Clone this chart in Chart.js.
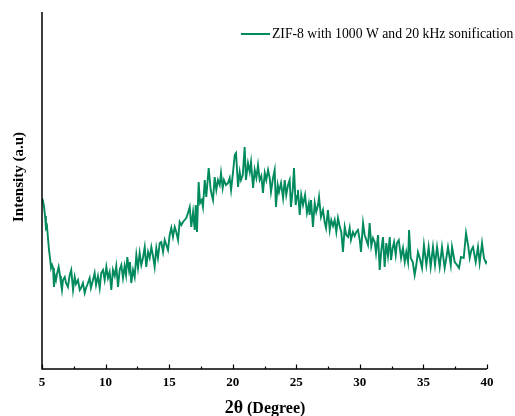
<!DOCTYPE html>
<html>
<head>
<meta charset="utf-8">
<script src="https://cdn.jsdelivr.net/npm/chart.js@4.4.1/dist/chart.umd.min.js"></script>
<style>
html,body{margin:0;padding:0;background:#fff;}
#wrap{width:515px;height:416px;position:relative;}
</style>
</head>
<body>
<div id="wrap"><canvas id="c" width="515" height="416"></canvas></div>
<script>
// 2θ positions (degree)
const twoTheta = [
5.00,5.08,5.16,5.24,5.31,5.39,5.47,5.55,5.63,5.71,
5.79,5.87,5.94,6.02,6.10,6.18,6.31,6.42,6.49,6.57,
6.65,6.79,6.89,7.04,7.18,7.30,7.44,7.57,7.67,7.83,
7.97,8.07,8.22,8.36,8.46,8.56,8.75,8.85,9.01,9.14,
9.25,9.40,9.54,9.66,9.80,9.93,10.06,10.19,10.32,10.45,
10.58,10.72,10.84,10.98,11.11,11.24,11.37,11.50,11.61,11.71,
11.84,11.92,12.02,12.16,12.29,12.42,12.55,12.68,12.81,12.94,
13.08,13.20,13.34,13.47,13.60,13.73,13.86,13.99,14.12,14.26,
14.38,14.52,14.65,14.78,14.91,15.04,15.17,15.30,15.44,15.56,
15.70,15.83,15.96,16.09,16.22,16.35,16.48,16.62,16.74,16.88,
17.01,17.09,17.19,17.32,17.43,17.56,17.66,17.80,17.92,18.11,
18.27,18.37,18.45,18.58,18.71,18.84,18.98,19.08,19.21,19.31,
19.47,19.63,19.76,19.87,20.00,20.16,20.26,20.34,20.42,20.55,
20.65,20.79,20.94,21.04,21.20,21.34,21.44,21.60,21.73,21.86,
21.99,22.12,22.25,22.38,22.52,22.64,22.78,22.91,23.01,23.17,
23.30,23.40,23.54,23.64,23.80,23.96,24.09,24.21,24.35,24.48,
24.58,24.72,24.82,24.95,25.06,25.13,25.27,25.39,25.53,25.69,
25.84,25.98,26.05,26.16,26.31,26.45,26.57,26.71,26.79,26.94,
27.10,27.23,27.34,27.49,27.63,27.75,27.89,28.02,28.15,28.28,
28.41,28.54,28.67,28.81,28.93,29.07,29.20,29.30,29.46,29.59,
29.72,29.85,29.99,30.09,30.25,30.38,30.51,30.64,30.77,30.90,
31.03,31.17,31.27,31.43,31.56,31.69,31.82,31.95,32.08,32.21,
32.35,32.45,32.58,32.69,32.82,32.92,33.06,33.16,33.24,33.39,
33.53,33.65,33.79,33.87,34.00,34.16,34.31,34.44,34.57,34.71,
34.89,35.04,35.23,35.41,35.57,35.75,35.91,36.07,36.28,36.46,
36.67,36.80,36.93,37.15,37.25,37.46,37.64,37.80,37.95,38.17,
38.35,38.51,38.64,38.77,38.90,39.11,39.29,39.42,39.61,39.76,
39.92,40.00
];
// Intensity (arbitrary units)
const intensity = [
171,168,162,153,141,143,131,119,111,101,
104,101,82,93,89,95,102,93,86,79,
89,92,86,82,94,99,79,92,85,89,
79,81,86,76,81,84,91,81,89,96,
84,93,81,96,99,89,102,91,97,79,
99,93,103,82,99,104,91,103,94,112,
99,107,86,99,92,114,101,116,104,111,
122,102,117,111,122,113,102,121,111,126,
127,117,129,124,119,134,141,132,142,137,
129,147,144,147,149,151,156,162,142,157,
139,164,137,187,166,169,162,189,172,201,
179,173,169,192,179,189,184,196,181,189,
184,186,191,179,194,214,216,199,182,197,
189,194,222,189,206,197,207,181,199,191,
204,189,193,176,196,189,199,191,177,191,
199,162,184,177,186,171,189,174,184,189,
162,179,201,164,173,179,154,174,164,174,
156,165,154,169,142,166,157,164,172,152,
159,147,141,159,139,149,143,149,137,151,
143,137,117,142,134,132,141,129,137,133,
137,139,129,117,146,134,129,124,146,123,
131,127,116,134,99,119,132,102,126,113,
132,109,121,127,114,126,129,119,111,121,
107,117,107,139,111,107,94,104,117,111,
101,124,104,122,102,122,104,122,102,122,
101,111,122,104,122,107,104,101,112,111,
136,124,111,119,122,107,122,106,126,111,
106,108
];
const xTicks = [5,10,15,20,25,30,35,40];
const seriesLabel = 'ZIF-8 with 1000 W and 20 kHz sonification';
const xTitleMain = '2θ';
const xTitleRest = ' (Degree)';
const yTitle = 'Intensity (a.u)';

const LINE = '#008a5e';
const SERIF = "'Liberation Serif','Times New Roman',serif";

const points = twoTheta.map((t,i)=>({x:t, y:intensity[i]}));

const decor = {
  id:'decor',
  beforeDraw(chart){
    const ctx = chart.ctx;
    ctx.save();
    ctx.fillStyle='#fff';
    ctx.fillRect(0,0,chart.width,chart.height);
    ctx.restore();
  },
  afterDraw(chart){
    const ctx = chart.ctx, a = chart.chartArea, xs = chart.scales.x;
    ctx.save();
    // axes
    ctx.strokeStyle='#000';
    ctx.lineWidth=1.5;
    ctx.beginPath();
    ctx.moveTo(a.left, a.top);
    ctx.lineTo(a.left, a.bottom);
    ctx.lineTo(a.right, a.bottom);
    ctx.stroke();
    // inward ticks
    ctx.lineWidth=1.2;
    for (let v=5; v<=40.001; v+=2.5){
      const px = Math.round(xs.getPixelForValue(v))+0.5;
      const major = Math.abs(v%5)<1e-6;
      ctx.beginPath();
      ctx.moveTo(px, a.bottom);
      ctx.lineTo(px, a.bottom-(major?4.5:2.5));
      ctx.stroke();
    }
    // x title
    ctx.fillStyle='#000';
    ctx.textBaseline='alphabetic';
    ctx.font = "bold 18px "+SERIF;
    const w1 = ctx.measureText(xTitleMain).width;
    ctx.font = "bold 16px "+SERIF;
    const w2 = ctx.measureText(xTitleRest).width;
    const cx = 265, by = 413;
    let sx = cx-(w1+w2)/2;
    ctx.font = "bold 18px "+SERIF;
    ctx.textAlign='left';
    ctx.fillText(xTitleMain, sx, by);
    ctx.font = "bold 16px "+SERIF;
    ctx.fillText(xTitleRest, sx+w1, by);
    // y title
    ctx.save();
    ctx.translate(19,177);
    ctx.rotate(-Math.PI/2);
    ctx.textAlign='center';
    ctx.textBaseline='middle';
    ctx.font = "bold 15px "+SERIF;
    ctx.fillText(yTitle,0,0);
    ctx.restore();
    // legend
    ctx.strokeStyle=LINE;
    ctx.lineWidth=2;
    ctx.beginPath();
    ctx.moveTo(241,34);
    ctx.lineTo(270,34);
    ctx.stroke();
    ctx.fillStyle='#000';
    ctx.font = "13.7px "+SERIF;
    ctx.textAlign='left';
    ctx.textBaseline='middle';
    ctx.fillText(seriesLabel, 272, 34);
    ctx.restore();
  }
};

new Chart(document.getElementById('c'), {
  type:'line',
  data:{datasets:[{
    label: seriesLabel,
    data: points,
    borderColor: LINE,
    borderWidth: 1.9,
    pointRadius: 0,
    tension: 0,
    fill: false
  }]},
  options:{
    responsive:false,
    animation:false,
    layout:{padding:{top:12,right:28,left:0,bottom:0}},
    plugins:{legend:{display:false}, tooltip:{enabled:false}},
    scales:{
      x:{
        type:'linear', min:5, max:40,
        afterFit(s){ s.height = 47; },
        afterBuildTicks(s){ s.ticks = xTicks.map(v=>({value:v})); },
        grid:{display:false, drawTicks:false},
        border:{display:false},
        ticks:{color:'#000', padding:6, maxRotation:0, autoSkip:false,
               font:{family:SERIF, size:13, weight:'bold'}}
      },
      y:{
        min:0, max:357,
        afterFit(s){ s.width = 42; },
        grid:{display:false, drawTicks:false},
        border:{display:false},
        ticks:{display:false}
      }
    }
  },
  plugins:[decor]
});
</script>
</body>
</html>
